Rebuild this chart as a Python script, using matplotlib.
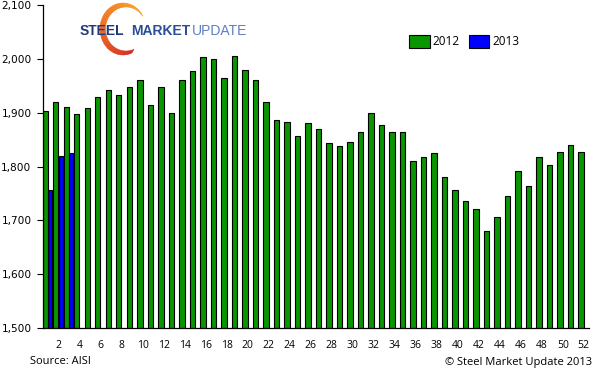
import numpy as np
import matplotlib.pyplot as plt
from matplotlib.patches import Polygon
from matplotlib.colors import LinearSegmentedColormap

weeks = np.arange(1, 53)
vals_2012 = [1904, 1920, 1911, 1898, 1908, 1930, 1943, 1932, 1948, 1960,
             1915, 1948, 1900, 1960, 1977, 2004, 1999, 1965, 2006, 1979,
             1961, 1920, 1887, 1883, 1856, 1881, 1870, 1844, 1839, 1846,
             1865, 1900, 1878, 1865, 1865, 1811, 1818, 1825, 1781, 1757,
             1736, 1721, 1680, 1706, 1746, 1792, 1764, 1818, 1803, 1827,
             1840, 1827]
weeks_2013 = [1, 2, 3]
vals_2013 = [1757, 1820, 1826]
tick_weeks = list(range(2, 53, 2))

green = '#0a9600'
blue = '#0000ff'

W, H = 595, 370
fig = plt.figure(figsize=(W / 100, H / 100), dpi=100)
ax = fig.add_axes([42.7 / W, 42 / H, (589 - 42.7) / W, 323 / H])

base = 1500
ax.bar(weeks - 0.25, np.array(vals_2012) - base, bottom=base, width=0.5,
       color=green, edgecolor='black', linewidth=0.8, label='2012')
ax.bar(np.array(weeks_2013) + 0.22, np.array(vals_2013) - base, bottom=base, width=0.42,
       color=blue, edgecolor='black', linewidth=0.8, label='2013')

ax.set_xlim(0.5, 52.5)
ax.set_ylim(1500, 2100)
ax.set_yticks(range(1500, 2101, 100))
ax.set_yticklabels([f'{v:,}' for v in range(1500, 2101, 100)],
                   fontsize=7.6, family='DejaVu Sans')
ax.set_xticks(tick_weeks)
ax.set_xticklabels([str(t) for t in tick_weeks], fontsize=7.5, family='Open Sans')
ax.tick_params(axis='y', length=4, width=0.8, pad=4)
ax.tick_params(axis='x', length=0, pad=9)
for s in ['top', 'right']:
    ax.spines[s].set_visible(False)
for s in ['left', 'bottom']:
    ax.spines[s].set_linewidth(0.9)

leg = ax.legend(loc='upper left', bbox_to_anchor=(409 / W, 1 - 35 / H),
                bbox_transform=fig.transFigure, frameon=False, ncol=2,
                prop={'family': 'Open Sans', 'size': 8.5},
                handlelength=1.75, handleheight=1.3, handletextpad=0.25,
                columnspacing=0.75, borderpad=0, borderaxespad=0)

# logo: orange-to-red crescent behind the wordmark
arc_cmap = LinearSegmentedColormap.from_list('arc', ['#f9a825', '#f07020', '#d3261c'])
cx, cy = 123, 29
t = np.radians(np.linspace(35, 293, 60))
for i in range(len(t) - 1):
    a = t[i:i + 2]
    outer = np.c_[cx + 23 * np.cos(a), cy - 26 * np.sin(a)]
    inner = np.c_[cx + 3 + 20.5 * np.cos(a[::-1]), cy - 22 * np.sin(a[::-1])]
    pts = np.vstack([outer, inner])
    pts[:, 0] /= W
    pts[:, 1] = 1 - pts[:, 1] / H
    fig.patches.append(Polygon(pts, closed=True, transform=fig.transFigure,
                               facecolor=arc_cmap(i / (len(t) - 2)),
                               edgecolor=arc_cmap(i / (len(t) - 2)),
                               linewidth=0.3, zorder=0))

fig.text(80 / W, 1 - 31 / H, 'STEEL', color='#1f3a7a', fontsize=10,
         fontweight='bold', family='Liberation Sans', va='center', ha='left')
fig.text(131 / W, 1 - 31 / H, 'MARKET', color='#2b4f97', fontsize=10,
         fontweight='bold', family='Liberation Sans', va='center', ha='left')
fig.text(192 / W, 1 - 31 / H, 'UPDATE', color='#5d7fc0', fontsize=10,
         family='Liberation Sans', va='center', ha='left')

fig.text(30 / W, 1 - 362 / H, 'Source: AISI', fontsize=8, family='Open Sans',
         va='center', ha='left')
fig.text(592 / W, 1 - 362 / H, '\u00a9 Steel Market Update 2013', fontsize=8,
         family='Open Sans', va='center', ha='right')

fig.savefig('out.png', dpi=100)
